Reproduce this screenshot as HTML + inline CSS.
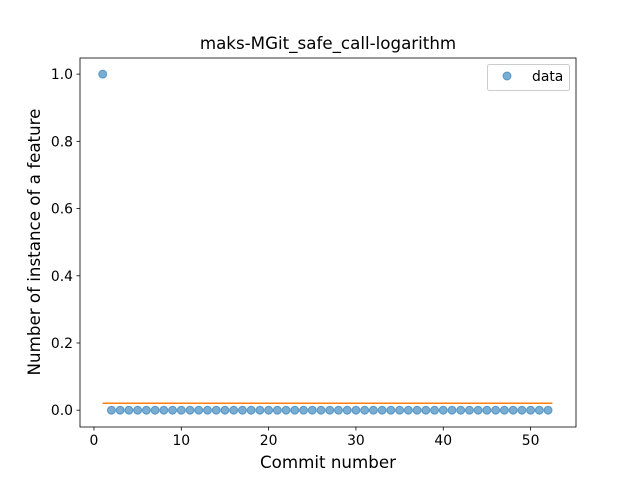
<!DOCTYPE html>
<html><head><meta charset="utf-8"><style>
body{margin:0;background:#fff}
text{font-family:"DejaVu Sans","Liberation Sans",sans-serif;fill:#000}
</style></head><body>
<svg id="c" width="640" height="480" xmlns="http://www.w3.org/2000/svg"></svg>
<script>
const commits = Array.from({length:52},(_,i)=>i+1);
const counts = [1,0,0,0,0,0,0,0,0,0,0,0,0,0,0,0,0,0,0,0,0,0,0,0,0,0,0,0,0,0,0,0,0,0,0,0,0,0,0,0,0,0,0,0,0,0,0,0,0,0,0,0];
const fitStart = [1, 0.0205];
const fitEnd = [52.5, 0.0205];
const xTicks = [0,10,20,30,40,50];
const yTicks = [0,0.2,0.4,0.6,0.8,1.0];
const L=80,R=576,T=58,B=427;
const xmin=-1.6,xmax=55.2,ymin=-0.05,ymax=1.048;
const sx=v=>L+(v-xmin)/(xmax-xmin)*(R-L);
const sy=v=>B-(v-ymin)/(ymax-ymin)*(B-T);
const svg=document.getElementById('c');
const NS='http://www.w3.org/2000/svg';
function mk(tag,attrs,txt){const e=document.createElementNS(NS,tag);for(const k in attrs)e.setAttribute(k,attrs[k]);if(txt!==undefined)e.textContent=txt;svg.appendChild(e);return e;}
commits.forEach((c,i)=>{
 const p=mk('circle',{cx:sx(c),cy:sy(counts[i]),r:4,fill:'#1f77b4','fill-opacity':0.6,stroke:'#1f77b4','stroke-opacity':0.6});
 
 
});
const fl=mk('line',{x1:sx(fitStart[0]),y1:sy(fitStart[1]),x2:sx(fitEnd[0]),y2:sy(fitEnd[1]),stroke:'#ff7f0e','stroke-width':1.5});


const fr=mk('rect',{x:L,y:T,width:R-L,height:B-T,fill:'none',stroke:'#000','stroke-width':0.8});


xTicks.forEach(t=>{
 mk('line',{x1:sx(t),x2:sx(t),y1:B,y2:B+3.5,stroke:'#000','stroke-width':0.8});
 const e=mk('text',{x:sx(t),y:B+18,'text-anchor':'middle','font-size':13.9},String(t));
 
 
});
yTicks.forEach(t=>{
 mk('line',{x1:L-3.5,x2:L,y1:sy(t),y2:sy(t),stroke:'#000','stroke-width':0.8});
 const e=mk('text',{x:L-7,y:sy(t)+5,'text-anchor':'end','font-size':13.9},t.toFixed(1));
 
 
});
</script>
<svg style="position:absolute;left:0;top:0" width="640" height="480" xmlns="http://www.w3.org/2000/svg">
<text x="328" y="49" text-anchor="middle" font-size="16.7">maks-MGit_safe_call-logarithm</text>
<text x="328" y="468" text-anchor="middle" font-size="16.7">Commit number</text>
<text transform="translate(40,242) rotate(-90)" text-anchor="middle" font-size="16.7">Number of instance of a feature</text>
<g>
<rect x="487.5" y="64.5" width="82" height="26" rx="2" fill="#fff" fill-opacity="0.8" stroke="#ccc"/>
<circle cx="507" cy="76" r="4" fill="#1f77b4" fill-opacity="0.6" stroke="#1f77b4" stroke-opacity="0.6"/>
<text x="532" y="81" font-size="13.9">data</text>
</g>
</svg>
</body></html>
